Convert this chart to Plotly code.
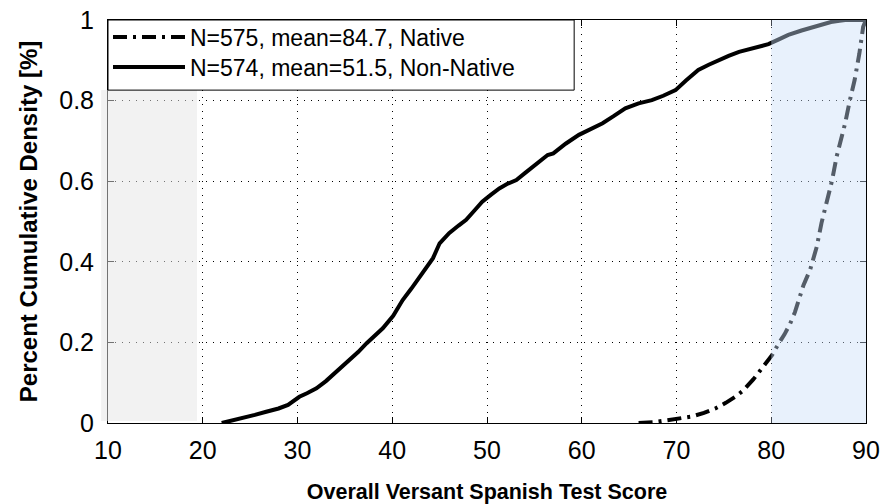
import plotly.graph_objects as go

# Non-Native cumulative distribution (score, cumulative fraction)
nonnative_score = [22.0, 23.0, 24.3, 25.5, 26.7, 28.0, 29.0, 30.2, 31.0, 32.0, 33.0, 33.7, 34.6, 35.5,
                   36.4, 37.3, 38.1, 39.0, 40.1, 41.1, 42.0, 42.9, 43.6, 44.3, 45.0, 46.0, 47.0,
                   47.8, 48.7, 49.5, 50.4, 51.3, 52.2, 53.1, 54.0, 54.8, 55.6, 56.4, 57.0, 58.3,
                   59.7, 61.0, 62.2, 63.4, 64.6, 66.0, 67.4, 68.6, 69.9, 71.0, 72.3, 73.4, 74.5,
                   75.5, 76.6, 78.0, 79.7, 80.8, 81.8, 83.2, 84.6, 85.5, 86.3, 87.2, 87.8, 90.0]
nonnative_cdf = [0.000, 0.005, 0.012, 0.020, 0.028, 0.036, 0.045, 0.065, 0.074, 0.086, 0.104, 0.119,
                 0.136, 0.156, 0.176, 0.198, 0.216, 0.235, 0.266, 0.305, 0.333, 0.363, 0.385, 0.409,
                 0.446, 0.471, 0.490, 0.504, 0.528, 0.549, 0.566, 0.582, 0.594, 0.603, 0.620, 0.636,
                 0.650, 0.665, 0.669, 0.693, 0.715, 0.730, 0.744, 0.762, 0.781, 0.793, 0.801, 0.812,
                 0.826, 0.850, 0.876, 0.889, 0.901, 0.911, 0.921, 0.930, 0.940, 0.952, 0.963, 0.974,
                 0.983, 0.989, 0.995, 0.998, 1.000, 1.000]

# Native cumulative distribution
native_score = [66.0, 67.6, 68.8, 70.2, 71.6, 72.9, 74.1, 75.2, 76.2, 77.0, 77.6, 78.1, 78.6, 79.1,
                79.5, 80.1, 80.8, 81.4, 82.0, 82.5, 82.9, 83.4, 84.1, 84.8, 85.3, 85.8, 86.4,
                86.9, 87.4, 87.8, 88.3, 88.8, 89.3, 89.7, 90.0]
native_cdf = [0.000, 0.002, 0.006, 0.012, 0.016, 0.025, 0.036, 0.050, 0.065, 0.080, 0.094, 0.108,
              0.123, 0.138, 0.152, 0.169, 0.198, 0.220, 0.247, 0.275, 0.305, 0.342, 0.380, 0.437,
              0.496, 0.545, 0.600, 0.661, 0.705, 0.744, 0.801, 0.851, 0.917, 0.983, 1.000]

x_ticks = [10, 20, 30, 40, 50, 60, 70, 80, 90]
y_ticks = [0, 0.2, 0.4, 0.6, 0.8, 1]
y_tick_text = ["0", "0.2", "0.4", "0.6", "0.8", "1"]

FONT = "Liberation Sans, Arial, sans-serif"

fig = go.Figure()
fig.add_trace(go.Scatter(
    x=native_score, y=native_cdf, mode="lines",
    name="N=575, mean=84.7, Native", legend="legend",
    line=dict(color="black", width=4, dash="14px,6px,3px,6px"),
))
fig.add_trace(go.Scatter(
    x=nonnative_score, y=nonnative_cdf, mode="lines",
    name="N=574, mean=51.5, Non-Native", legend="legend2",
    line=dict(color="black", width=4),
))

# shaded regions (semi-transparent overlays, like the reference)
fig.add_shape(type="rect", xref="paper", yref="paper",
              x0=-0.009, x1=0.1174, y0=0.005, y1=0.826,
              fillcolor="rgba(229,229,229,0.5)", line=dict(width=0), layer="above")
fig.add_shape(type="rect", xref="x", yref="y",
              x0=80, x1=90, y0=0, y1=1,
              fillcolor="rgba(200,221,248,0.42)", line=dict(width=0), layer="above")
# legend frame
fig.add_shape(type="rect", xref="paper", yref="paper",
              x0=0, x1=0.615, y0=0.826, y1=1.0,
              fillcolor="white", line=dict(color="black", width=1), layer="above")

legend_common = dict(x=0, xanchor="left", yanchor="middle",
                     bgcolor="rgba(0,0,0,0)", borderwidth=0,
                     font=dict(size=23, family=FONT), itemwidth=72)

fig.update_layout(
    width=884, height=504,
    margin=dict(l=108, r=18, t=20, b=81),
    paper_bgcolor="white", plot_bgcolor="white",
    font=dict(family=FONT, color="black"),
    showlegend=True,
    legend=dict(y=0.958, **legend_common),
    legend2=dict(y=0.883, **legend_common),
)
fig.update_xaxes(
    range=[10, 90], tickvals=x_ticks, ticktext=[str(v) for v in x_ticks],
    showgrid=True, gridcolor="black", griddash="1px,6px", gridwidth=1,
    showline=True, linecolor="black", linewidth=1, mirror="ticks",
    ticks="inside", ticklen=6, tickcolor="black",
    tickfont=dict(size=25, family=FONT), ticklabelstandoff=5,
    ticklabeloverflow="allow",
    zeroline=False, automargin=False,
    title=dict(text="<b>Overall Versant Spanish Test Score</b>",
               font=dict(size=21.5, family=FONT), standoff=20),
)
fig.update_yaxes(
    range=[0, 1], tickvals=y_ticks, ticktext=y_tick_text,
    showgrid=True, gridcolor="black", griddash="1px,6px", gridwidth=1,
    showline=True, linecolor="black", linewidth=1, mirror="ticks",
    ticks="inside", ticklen=6, tickcolor="black",
    tickfont=dict(size=25, family=FONT), ticklabelstandoff=8,
    ticklabeloverflow="allow",
    zeroline=False, automargin=False,
    title=dict(text="<b>Percent Cumulative Density [%]</b>",
               font=dict(size=24, family=FONT), standoff=14),
)

fig.write_html(
    "out.html",
    config={"displayModeBar": False},
    post_script="document.body.style.margin='0';document.documentElement.style.overflow='hidden';",
)
